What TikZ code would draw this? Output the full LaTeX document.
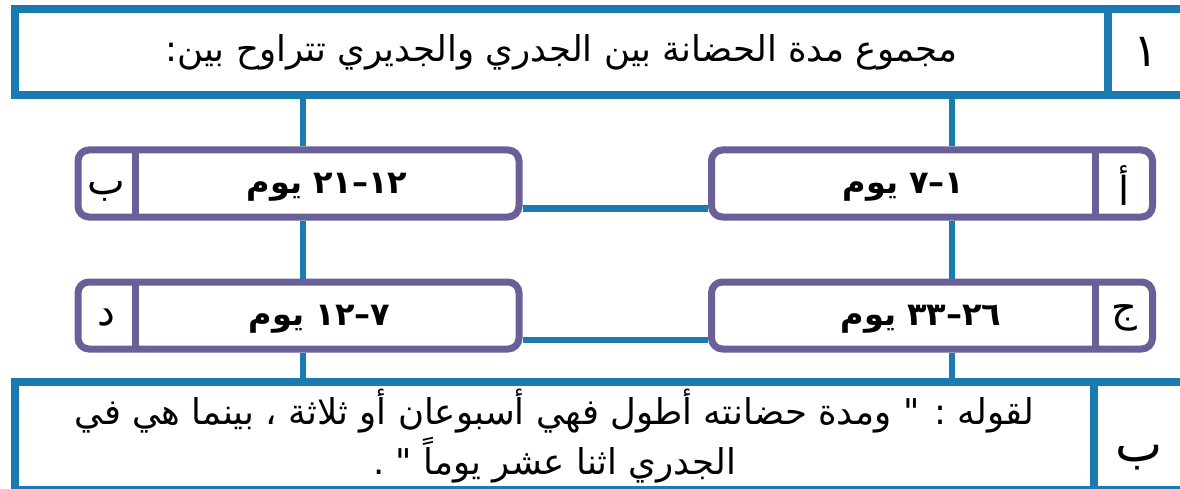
\documentclass[tikz,border=0pt]{standalone}
\usepackage{fontspec}
\newfontfamily\arabicfont[Script=Arabic]{DejaVu Sans}
\TeXXeTstate=1
\definecolor{frameblue}{HTML}{1A7BB0}
\definecolor{optpurple}{HTML}{69609A}

\begin{document}
\begin{tikzpicture}[x=1pt,y=-1pt,
  frame node/.style={draw=frameblue,line width=8pt,outer sep=0pt,inner sep=0pt,minimum height=86pt,font=\arabicfont\fontsize{35.5}{50}\selectfont},
  option node/.style={draw=optpurple,line width=7pt,rounded corners=11pt,fill=white,outer sep=0pt,minimum width=441pt,minimum height=67pt},
  cell line/.style={draw=optpurple,line width=7pt},
  link/.style={draw=frameblue,line width=6.5pt,shorten >=3.5pt},
  option text/.style={font=\arabicfont\bfseries\fontsize{32}{36}\selectfont,inner sep=0pt,yshift=-4pt},
  option letter/.style={font=\arabicfont\fontsize{40}{44}\selectfont,inner sep=0pt,yshift=-2pt}]

  \useasboundingbox (0,0) rectangle (1180,489);

  % question
  \node[frame node,minimum width=1093pt] (1) at (561.5,52) {\beginR مجموع مدة الحضانة بين الجدري والجديري تتراوح بين:\endR};
  \node[frame node,minimum width=76pt,anchor=west,font=\arabicfont\fontsize{46}{50}\selectfont] (2) at (1.east) {\beginR ١\endR};

  % options
  \node[option node] (3) at (932,183.5) {};
  \node[option node] (4) at (298.5,183.5) {};
  \node[option node] (5) at (932,315.5) {};
  \node[option node] (6) at (298.5,315.5) {};

  \draw[cell line] ([xshift=-57pt]3.north east) -- ([xshift=-57pt]3.south east);
  \draw[cell line] ([xshift=57pt]4.north west) -- ([xshift=57pt]4.south west);
  \draw[cell line] ([xshift=-57pt]5.north east) -- ([xshift=-57pt]5.south east);
  \draw[cell line] ([xshift=57pt]6.north west) -- ([xshift=57pt]6.south west);

  \node[option letter] (3l) at ([xshift=-28.5pt]3.east) {\beginR أ\endR};
  \node[option letter,yshift=-6pt] (4l) at ([xshift=28.5pt]4.west) {\beginR ب\endR};
  \node[option letter] (5l) at ([xshift=-28.5pt]5.east) {\beginR ج\endR};
  \node[option letter] (6l) at ([xshift=28.5pt]6.west) {\beginR د\endR};

  \node[option text] (3t) at ([xshift=-28.5pt]3.center) {\beginR\beginL١–٧\endL{} يوم\endR};
  \node[option text] (4t) at ([xshift=28.5pt]4.center) {\beginR\beginL١٢–٢١\endL{} يوم\endR};
  \node[option text] (5t) at ([xshift=-11pt]5.center) {\beginR\beginL٢٦–٣٣\endL{} يوم\endR};
  \node[option text] (6t) at ([xshift=21pt]6.center) {\beginR\beginL٧–١٢\endL{} يوم\endR};

  % answer
  \node[frame node,minimum width=1079pt,minimum height=108pt,align=center] (7) at (554.5,436) {\beginR لقوله : " ومدة حضانته أطول فهي أسبوعان أو ثلاثة ، بينما هي في\endR\\\beginR الجدري اثنا عشر يوماً " .\endR};
  \node[frame node,minimum width=90pt,minimum height=108pt,anchor=west] (8) at (7.east) {};
  \node[font=\arabicfont\fontsize{50}{54}\selectfont,inner sep=0pt] (8l) at ([yshift=-22pt]8.center) {\beginR ب\endR};

  % connectors
  \coordinate (lx) at (303,0);
  \coordinate (rx) at (952,0);
  \coordinate (ty) at (0,208.5);
  \coordinate (by) at (0,340);

  \path[link]
    (1.south -| lx) edge (4.north -| lx)
    (1.south -| rx) edge (3.north -| rx)
    (4.south -| lx) edge[shorten <=3.5pt] (6.north -| lx)
    (3.south -| rx) edge[shorten <=3.5pt] (5.north -| rx)
    (6.south -| lx) edge[shorten <=3.5pt,shorten >=0pt] (7.north -| lx)
    (5.south -| rx) edge[shorten <=3.5pt,shorten >=0pt] (7.north -| rx)
    (4.east |- ty) edge[shorten <=3.5pt] (3.west |- ty)
    (6.east |- by) edge[shorten <=3.5pt] (5.west |- by)
    ;
\end{tikzpicture}
\end{document}
